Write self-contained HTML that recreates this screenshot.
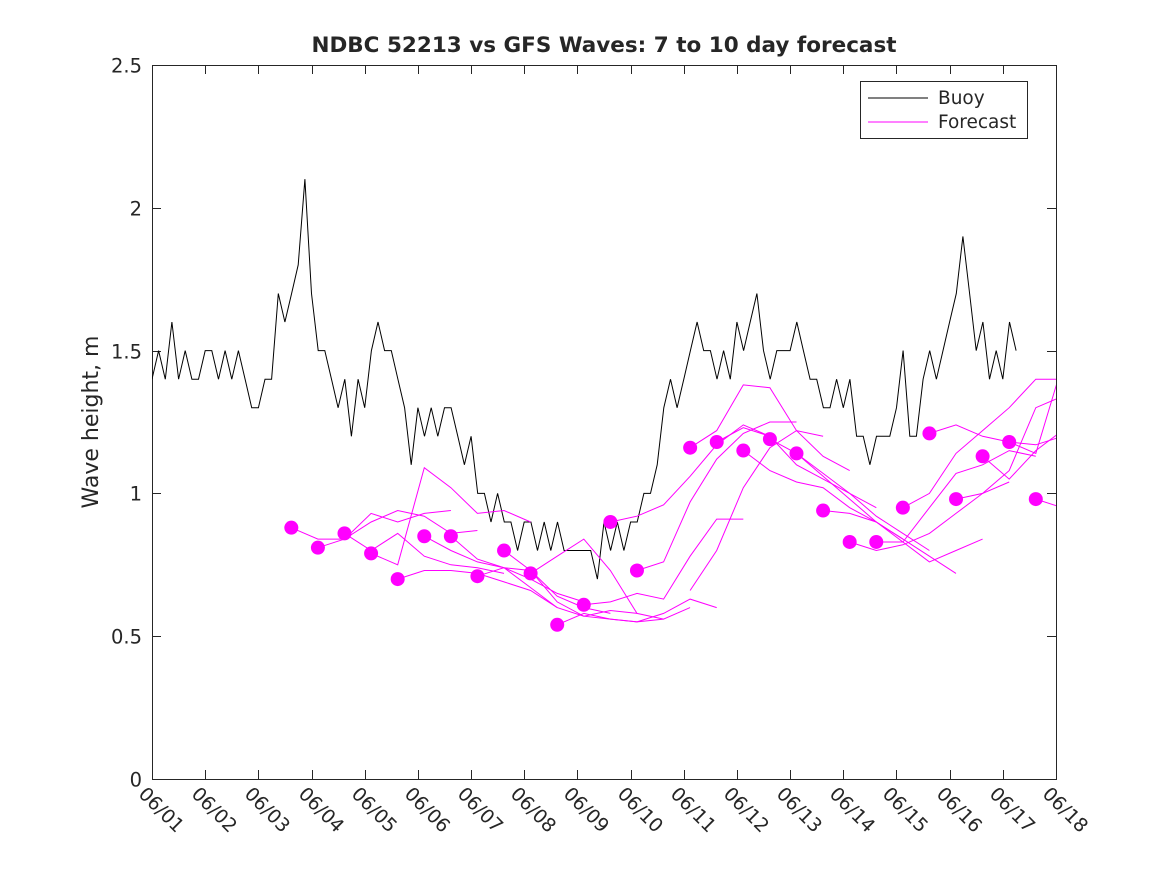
<!DOCTYPE html>
<html><head><meta charset="utf-8"><style>
body{margin:0;background:#fff;}
svg text{font-family:"DejaVu Sans","Liberation Sans",sans-serif;fill:#262626;}
</style></head><body>
<svg id="chart" width="1167" height="875" xmlns="http://www.w3.org/2000/svg">
<defs><clipPath id="plotclip"><rect x="152" y="65" width="904" height="714"/></clipPath></defs>
<rect width="1167" height="875" fill="#fff"/>
<text x="604" y="52" text-anchor="middle" font-size="21.5" font-weight="bold" fill="#000">NDBC 52213 vs GFS Waves: 7 to 10 day forecast</text>
<text transform="translate(98,422) rotate(-90)" text-anchor="middle" font-size="22">Wave height, m</text>
<g id="axes"></g>
<g id="series" clip-path="url(#plotclip)"></g>
<g>
<rect x="860.5" y="81.5" width="167" height="57" fill="#fff" stroke="#262626"/>
<line x1="868" y1="98" x2="928" y2="98" stroke="#000"/>
<text x="938" y="104" font-size="18.5">Buoy</text>
<line x1="868" y1="122" x2="928" y2="122" stroke="#f0f"/>
<text x="938" y="128" font-size="18.5">Forecast</text>
</g>
</svg>
<script>
const dateLabels=["06/01","06/02","06/03","06/04","06/05","06/06","06/07","06/08","06/09","06/10","06/11","06/12","06/13","06/14","06/15","06/16","06/17","06/18"];
const yTicks=[0,0.5,1,1.5,2,2.5];
// buoy values every 3 hours from 06/01 00:00
const buoy=[1.4,1.5,1.4,1.6,1.4,1.5,1.4,1.4,
1.5,1.5,1.4,1.5,1.4,1.5,1.4,1.3,
1.3,1.4,1.4,1.7,1.6,1.7,1.8,2.1,
1.7,1.5,1.5,1.4,1.3,1.4,1.2,1.4,
1.3,1.5,1.6,1.5,1.5,1.4,1.3,1.1,
1.3,1.2,1.3,1.2,1.3,1.3,1.2,1.1,
1.2,1.0,1.0,0.9,1.0,0.9,0.9,0.8,
0.9,0.9,0.8,0.9,0.8,0.9,0.8,0.8,
0.8,0.8,0.8,0.7,0.9,0.8,0.9,0.8,
0.9,0.9,1.0,1.0,1.1,1.3,1.4,1.3,
1.4,1.5,1.6,1.5,1.5,1.4,1.5,1.4,
1.6,1.5,1.6,1.7,1.5,1.4,1.5,1.5,
1.5,1.6,1.5,1.4,1.4,1.3,1.3,1.4,
1.3,1.4,1.2,1.2,1.1,1.2,1.2,1.2,
1.3,1.5,1.2,1.2,1.4,1.5,1.4,1.5,
1.6,1.7,1.9,1.7,1.5,1.6,1.4,1.5,
1.4,1.6,1.5];
// forecast segment start days (days since 06/01)
const fcStart=[2.62,3.12,3.62,4.12,4.62,5.12,5.62,6.12,6.62,7.12,7.62,8.12,8.62,9.12,9.62,10.12,10.62,11.12,11.62,12.12,12.62,13.12,13.62,14.12,14.62,15.12,15.62,16.12,16.62];
// forecast values at 12h steps; first value is the dot
const fcVals=[
[0.88,0.84,0.84,0.93,0.90,0.93,0.94],
[0.81,0.84,0.90,0.94,0.92,0.86,0.87],
[0.86,0.80,0.86,0.78,0.75,0.74,0.72],
[0.79,0.75,1.09,1.02,0.93,0.94,0.90],
[0.70,0.73,0.73,0.72,0.69,0.66,0.60],
[0.85,0.80,0.76,0.74,0.70,0.65,0.62],
[0.85,0.77,0.74,0.73,0.64,0.60,0.58],
[0.71,0.74,0.67,0.60,0.57,0.59,0.58],
[0.80,0.73,0.62,0.57,0.56,0.55,0.56],
[0.72,0.78,0.84,0.73,0.58,0.56,0.60],
[0.54,0.58,0.56,0.55,0.58,0.63,0.60],
[0.61,0.62,0.65,0.63,0.78,0.91,0.91],
[0.90,0.92,0.96,1.06,1.17,1.24,1.20],
[0.73,0.76,0.97,1.12,1.21,1.25,1.25],
[null,0.66,0.80,1.02,1.16,1.22,1.20],
[1.16,1.22,1.38,1.37,1.22,1.13,1.08],
[1.18,1.23,1.20,1.10,1.05,1.00,0.95],
[1.15,1.08,1.04,1.02,0.95,0.90,0.84],
[1.19,1.14,1.07,1.00,0.92,0.86,0.80],
[1.14,1.06,0.98,0.90,0.84,0.78,0.72],
[0.94,0.93,0.90,0.83,0.76,0.80,0.84],
[0.83,0.80,0.82,0.86,0.93,1.00,1.04],
[0.83,0.83,0.95,1.07,1.10,1.15,1.13],
[0.95,1.00,1.14,1.22,1.30,1.40,1.40],
[1.21,1.24,1.20,1.18,1.17,1.20,1.19],
[0.98,1.00,1.08,1.30,1.34,1.65,1.60],
[1.13,1.05,1.15,1.22,1.30,1.10,1.05],
[1.18,1.14,1.45,1.25,1.10,1.00,0.90],
[0.98,0.95,0.92,0.88,0.85,0.85,0.85]];
const X0=152,X1=1056,Y0=779,Y1=65;
const xs=d=>X0+(d/17)*(X1-X0);
const ys=v=>Y0-(v/2.5)*(Y0-Y1);
const NS="http://www.w3.org/2000/svg";
function mk(tag,attrs,parent){const e=document.createElementNS(NS,tag);for(const k in attrs)e.setAttribute(k,attrs[k]);parent.appendChild(e);return e;}
const axes=document.getElementById('axes'),ser=document.getElementById('series');
const frame=mk('rect',{x:X0+0.5,y:Y1+0.5,width:X1-X0,height:Y0-Y1,fill:'none',stroke:'#262626'},axes);


yTicks.forEach(v=>{const y=Math.round(ys(v))+0.5;
 const t1=mk('line',{x1:X0,y1:y,x2:X0+9,y2:y,stroke:'#262626'},axes);
 
 
 const t2=mk('line',{x1:X1-9,y1:y,x2:X1,y2:y,stroke:'#262626'},axes);
 
 
 const tx=mk('text',{x:X0-10,y:y+7,'text-anchor':'end','font-size':'19.5'},axes);tx.textContent=String(v);
 
 
});
dateLabels.forEach((l,i)=>{const x=Math.round(xs(i))+0.5;
 const t1=mk('line',{x1:x,y1:Y0,x2:x,y2:Y0-9,stroke:'#262626'},axes);
 
 
 const t2=mk('line',{x1:x,y1:Y1,x2:x,y2:Y1+9,stroke:'#262626'},axes);
 
 
 const tx=mk('text',{transform:`translate(${x-15},${Y0+16}) rotate(45)`,'font-size':'19'},axes);tx.textContent=l;
 
 
});
const bp=buoy.map((v,i)=>xs(i/8).toFixed(1)+','+ys(v).toFixed(1)).join(' ');
const bl=mk('polyline',{points:bp,fill:'none',stroke:'#000','stroke-width':1},ser);


fcVals.forEach((arr,k)=>{const pts=[];arr.forEach((v,j)=>{if(v!==null)pts.push(xs(fcStart[k]+j*0.5).toFixed(1)+','+ys(v).toFixed(1));});
 const pl=mk('polyline',{points:pts.join(' '),fill:'none',stroke:'#f0f','stroke-width':1},ser);
 
 
});
fcVals.forEach((arr,k)=>{if(arr[0]===null)return;
 const c=mk('circle',{cx:xs(fcStart[k]),cy:ys(arr[0]),r:7,fill:'#f0f'},ser);
 
 
});
</script>
</body></html>
